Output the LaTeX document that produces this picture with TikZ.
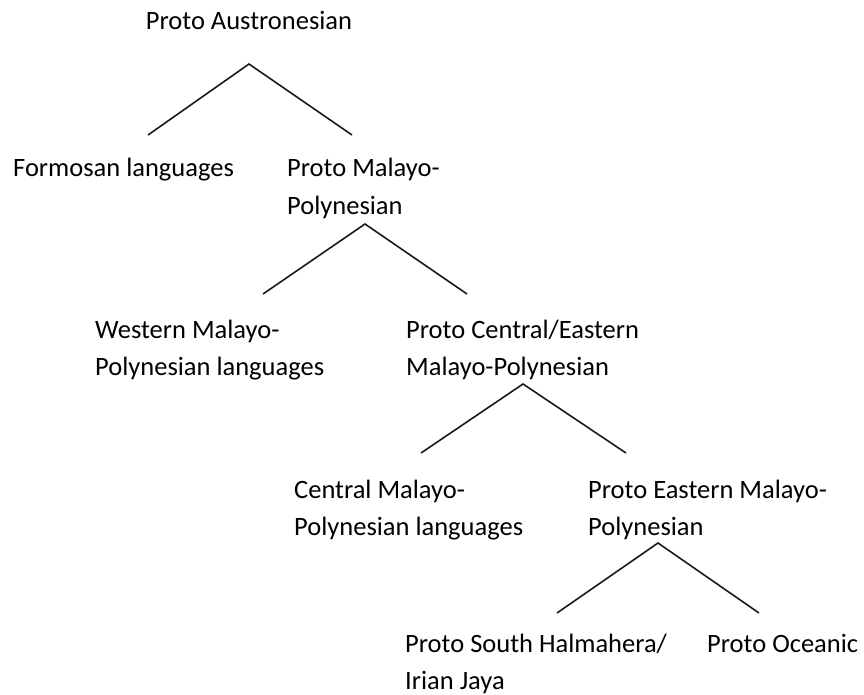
\documentclass[tikz,border=0pt]{standalone}
\usepackage{fontspec}
\setmainfont{Carlito}
\usetikzlibrary{positioning}
\tikzset{
  lang/.style  ={anchor=base west, align=left, inner sep=0pt,
                 font=\fontsize{26.5}{37}\selectfont},
  branch/.style={line width=1.6pt, draw=black!90},
}

\begin{document}
\begin{tikzpicture}[x=1pt,y=-1pt]
  \useasboundingbox (0,0) rectangle (864,695);
  % languages, one level after the other (base = last line)
  \node[lang, anchor=base] (pan) at (249,30) {Proto Austronesian};
  \node[lang] (for)   at (13,177)  {Formosan languages};
  \node[lang] (pmp)   at (287,214) {Proto Malayo-\\Polynesian};
  \node[lang] (wmp)   at (95,375)  {Western Malayo-\\Polynesian languages};
  \node[lang] (pcemp) at (406,375) {Proto Central/Eastern\\Malayo-Polynesian};
  \node[lang] (cmp)   at (294,535) {Central Malayo-\\Polynesian languages};
  \node[lang] (pemp)  at (588,535) {Proto Eastern Malayo-\\Polynesian};
  \node[lang] (pshij) at (405,689) {Proto South Halmahera/\\Irian Jaya};
  \node[lang] (poc)   at (707,652) {Proto Oceanic};
  % forks
  \coordinate (pan-fork)   at (249,64);
  \coordinate (for-top)    at (148,135);
  \coordinate (pmp-top)    at (352,135);
  \coordinate (pmp-fork)   at (365,224);
  \coordinate (wmp-top)    at (263,294);
  \coordinate (pcemp-top)  at (467,294);
  \coordinate (pcemp-fork) at (523,384);
  \coordinate (cmp-top)    at (421,453);
  \coordinate (pemp-top)   at (626,453);
  \coordinate (pemp-fork)  at (658,543);
  \coordinate (pshij-top)  at (557,613);
  \coordinate (poc-top)    at (759,613);
  \draw[branch] (for-top) -- (pan-fork) -- (pmp-top);
  \draw[branch] (wmp-top) -- (pmp-fork) -- (pcemp-top);
  \draw[branch] (cmp-top) -- (pcemp-fork) -- (pemp-top);
  \draw[branch] (pshij-top) -- (pemp-fork) -- (poc-top);
\end{tikzpicture}
\end{document}
